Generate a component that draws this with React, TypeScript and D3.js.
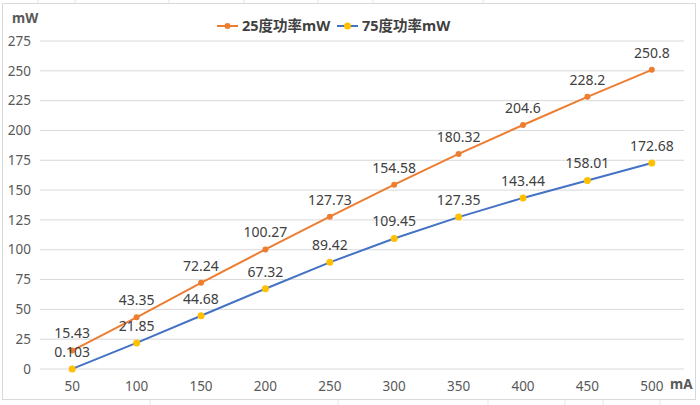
import * as d3 from "d3";
import React from "react";

const currents = ["50", "100", "150", "200", "250", "300", "350", "400", "450", "500"];
const power25 = [15.43, 43.35, 72.24, 100.27, 127.73, 154.58, 180.32, 204.6, 228.2, 250.8];
const power75 = [0.103, 21.85, 44.68, 67.32, 89.42, 109.45, 127.35, 143.44, 158.01, 172.68];
const yTicks = [0, 25, 50, 75, 100, 125, 150, 175, 200, 225, 250, 275];
const seriesNames = ["25度功率mW", "75度功率mW"];

const W = 700;
const H = 405;
const font = "'Noto Sans', 'Noto Sans CJK SC', sans-serif";

export default function App() {
  const margin = { top: 41, right: 16, bottom: 36, left: 40 };

  const x = d3
    .scaleBand()
    .domain(currents)
    .range([margin.left, W - margin.right]);

  const y = d3
    .scaleLinear()
    .domain([0, 275])
    .range([H - margin.bottom, margin.top]);

  const px = (c: string) => x(c)! + x.bandwidth() / 2;

  const line = d3
    .line<number>()
    .x((_, i) => px(currents[i]))
    .y((d) => y(d));

  const series = [
    { name: seriesNames[0], values: power25, stroke: "#ED7D31", marker: "#ED7D31", r: 3 },
    { name: seriesNames[1], values: power75, stroke: "#4472C4", marker: "#FFC000", r: 3.5 },
  ];

  return (
    <svg
      width={W}
      height={H}
      style={{ position: "absolute", left: 0, top: 0, fontFamily: font }}
    >
      <rect x={0} y={0} width={W} height={H} fill="#ffffff" />
      {/* spreadsheet cells peeking out around the chart */}
      {[38, 75, 169, 244, 318, 373, 483].map((cx) => (
        <line key={cx} x1={cx} x2={cx} y1={0} y2={3} stroke="#e4e4e4" />
      ))}
      {[150, 338, 488, 565, 603, 660].map((cx) => (
        <line key={"b" + cx} x1={cx} x2={cx} y1={400} y2={H} stroke="#e4e4e4" />
      ))}
      <rect x={2.5} y={3.5} width={693} height={396} fill="#ffffff" stroke="#d9d9d9" />

      {yTicks.map((t) => (
        <g key={t}>
          <line
            x1={margin.left}
            x2={W - margin.right}
            y1={y(t)}
            y2={y(t)}
            stroke="#d9d9d9"
            strokeWidth={1}
          />
          <text
            x={31}
            y={y(t)}
            dy="0.35em"
            textAnchor="end"
            fontSize={13.5}
            fill="#595959"
          >
            {t}
          </text>
        </g>
      ))}

      {currents.map((c) => (
        <text key={c} x={px(c)} y={386} dy="0.35em" textAnchor="middle" fontSize={13.5} fill="#595959">
          {c}
        </text>
      ))}

      <text x={12} y={18} dy="0.35em" fontSize={13.5} fontWeight="bold" fill="#595959">
        mW
      </text>
      <text x={670} y={384} dy="0.35em" fontSize={13.5} fontWeight="bold" fill="#595959">
        mA
      </text>

      {series.map((s) => (
        <g key={s.name}>
          <path d={line(s.values)!} fill="none" stroke={s.stroke} strokeWidth={2} />
          {s.values.map((v, i) => (
            <g key={i}>
              <circle cx={px(currents[i])} cy={y(v)} r={s.r} fill={s.marker} />
              <text
                x={px(currents[i])}
                y={y(v) - 17}
                dy="0.35em"
                textAnchor="middle"
                fontSize={14}
                fill="#404040"
              >
                {v}
              </text>
            </g>
          ))}
        </g>
      ))}

      {/* legend */}
      {series.map((s, i) => {
        const lx = i === 0 ? 217 : 337;
        return (
          <g key={"lg" + s.name}>
            <line x1={lx} x2={lx + 21} y1={26} y2={26} stroke={s.stroke} strokeWidth={2} />
            <circle cx={lx + 10.5} cy={26} r={s.r} fill={s.marker} />
            <text x={lx + 25} y={26} dy="0.35em" fontSize={14.5} fontWeight="bold" fill="#404040">
              {s.name}
            </text>
          </g>
        );
      })}
    </svg>
  );
}
